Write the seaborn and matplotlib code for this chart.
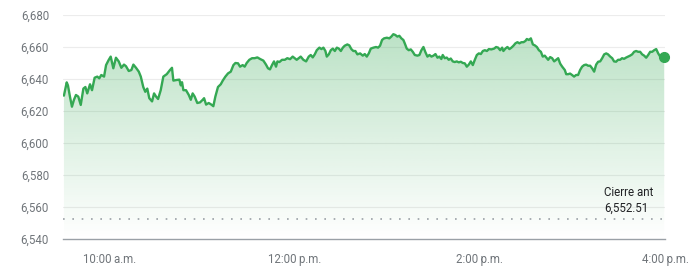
import numpy as np
import pandas as pd
import matplotlib
matplotlib.use("Agg")
import matplotlib.pyplot as plt
import seaborn as sns
from matplotlib.colors import to_rgb

# minutes since 9:30 a.m.
minutes = [0.6, 2.4, 3.2, 4.5, 5.8, 7.1, 8.4, 9.9, 11.5, 13.2, 14.5, 15.7, 17.5, 18.8, 20.5, 22.2, 23.5, 24.8,
           26.6, 27.9, 29.6, 30.9, 32.6, 34.3, 36.1, 37.8, 39.5, 40.8, 42.6, 44.3, 45.6, 47.3, 49.1, 50.4,
           52.0, 53.3, 54.6, 55.9, 57.7, 59.0, 60.3, 61.6, 63.3, 65.0, 67.2, 69.3, 70.6, 71.5, 73.7, 75.4,
           76.3, 77.1, 78.0, 79.7, 81.5, 82.8, 84.0, 85.3, 87.0, 88.8, 90.5, 91.4, 92.7, 94.4, 96.1, 97.4,
           98.7, 100.4, 102.2, 103.5, 105.2, 106.9, 108.7, 110.4, 111.7, 113.4, 114.7, 116.4, 117.7, 119.0,
           120.7, 122.5, 124.2, 125.9, 127.7, 129.8, 131.5, 132.8, 134.1, 135.4, 136.7, 138.0, 138.9, 140.2,
           141.9, 143.7, 145.3, 147.1, 148.8, 150.1, 151.4, 152.7, 154.0, 155.7, 157.5, 159.2, 160.5, 161.8,
           163.1, 164.4, 166.1, 167.4, 168.7, 170.0, 170.9, 172.2, 173.5, 174.8, 176.1, 177.4, 178.7, 180.0,
           181.3, 182.5, 184.2, 185.5, 186.8, 188.1, 189.4, 190.7, 192.5, 194.2, 195.5, 196.8, 198.1, 199.4,
           201.1, 202.8, 204.1, 205.4, 206.7, 208.0, 209.8, 211.4, 212.7, 214.0, 215.3, 216.6, 217.9, 219.2,
           220.5, 221.4, 222.7, 224.0, 225.3, 226.6, 227.9, 229.6, 230.9, 232.2, 233.5, 234.8, 236.1, 237.4,
           238.7, 240.0, 241.3, 242.6, 243.8, 245.1, 246.0, 247.3, 248.6, 249.9, 251.2, 252.5, 253.8, 255.1,
           256.4, 257.7, 259.0, 260.3, 261.6, 262.9, 264.2, 265.5, 266.8, 268.1, 269.4, 270.7, 272.0, 273.3,
           274.6, 275.9, 277.5, 279.3, 280.6, 281.9, 283.2, 284.5, 285.3, 286.6, 287.9, 289.2, 290.5, 291.8,
           293.1, 294.4, 295.7, 297.0, 298.3, 299.6, 300.5, 301.8, 303.1, 304.4, 305.7, 307.0, 308.3, 309.6,
           310.8, 312.1, 313.4, 314.3, 315.6, 316.9, 318.2, 319.5, 320.8, 322.1, 323.4, 325.1, 326.0, 327.2,
           328.5, 329.8, 331.1, 332.4, 333.7, 335.0, 336.3, 337.6, 338.9, 340.2, 341.5, 342.8, 344.1, 345.4,
           346.7, 348.0, 349.3, 350.6, 351.9, 353.1, 354.5, 355.8, 357.0, 358.3, 359.6, 360.9, 362.2, 363.5,
           364.8, 366.1, 367.4, 368.7, 370.0, 371.3, 372.6, 373.9, 375.2, 376.5, 377.8, 379.1, 380.4, 381.7,
           383.0, 384.3, 385.6, 386.9, 389.5]
prices = [6629.6, 6637.9, 6636, 6629, 6622.7, 6627, 6630, 6629, 6623.8, 6634, 6635, 6631, 6636.7, 6633, 6640.8,
          6641.5, 6640.4, 6642.5, 6641.5, 6648.7, 6651.9, 6654, 6646.7, 6653.3, 6651, 6647, 6649, 6648, 6645,
          6645.6, 6649, 6647, 6644.6, 6641.5, 6635, 6632, 6634, 6628, 6626, 6631, 6629, 6627.5, 6633, 6641.5,
          6643, 6645.6, 6647, 6639, 6639.4, 6639.6, 6636, 6638, 6633, 6633, 6630, 6627, 6631, 6629, 6625,
          6625.4, 6627, 6628, 6624, 6625, 6624, 6623, 6629, 6635, 6636.7, 6639, 6641.5, 6643.5, 6644.6, 6648.7,
          6650, 6649.8, 6647.7, 6648.7, 6647.7, 6650, 6652, 6653, 6653, 6653.5, 6652.5, 6651.5, 6649, 6646.7,
          6646, 6648.7, 6651, 6647.7, 6651, 6650.6, 6652, 6652, 6653, 6652.4, 6654, 6653, 6652, 6653, 6654,
          6652, 6651, 6654, 6655, 6653.5, 6655.4, 6658, 6659.6, 6658.7, 6659.6, 6657.5, 6654, 6655.4, 6658,
          6659, 6657.5, 6659.6, 6659, 6657.5, 6659.6, 6660.8, 6661.6, 6661, 6658.7, 6657.5, 6657.5, 6655.4,
          6656, 6654.6, 6655.6, 6654, 6656, 6659, 6659.6, 6660, 6659.6, 6660.8, 6664.4, 6665.4, 6665.8, 6665.4,
          6666.5, 6668, 6667.5, 6666.5, 6667, 6665.4, 6664.4, 6662.3, 6659, 6658, 6658.5, 6657, 6655, 6654.6,
          6655, 6658, 6660, 6656.7, 6654, 6655, 6654, 6654.6, 6655.6, 6653.3, 6654, 6652.5, 6655, 6653, 6653.4,
          6652, 6652.8, 6651, 6650.6, 6651, 6650.4, 6650.8, 6650, 6649.8, 6647.7, 6649, 6651, 6648.7, 6652,
          6655, 6656, 6655.6, 6657.5, 6658, 6657.5, 6658.7, 6658.5, 6659, 6660, 6659.6, 6658, 6659.6, 6657.5,
          6659, 6660, 6658.7, 6659.6, 6660.8, 6662.3, 6663, 6662.3, 6663, 6663, 6663.8, 6665, 6664.4, 6665.4,
          6661.6, 6661, 6660, 6658, 6657, 6654, 6654.6, 6653, 6652, 6653.7, 6653, 6651, 6652, 6653, 6649.6,
          6647.7, 6645.6, 6643, 6643, 6643.4, 6642.5, 6641.5, 6642.5, 6642.5, 6645.6, 6647.7, 6648.7, 6649,
          6648.3, 6648.3, 6646.7, 6644.6, 6649, 6650.8, 6651, 6653, 6655.4, 6656, 6655.4, 6654, 6653, 6651,
          6650.8, 6652, 6652, 6653, 6652.6, 6653.4, 6654, 6654.6, 6655.4, 6657, 6657.5, 6657, 6657, 6655.4,
          6654.6, 6653.3, 6655, 6657, 6657, 6658, 6658.7, 6656, 6654, 6654]

prev_close = 6552.51
prev_close_label = "Cierre ant\n6,552.51"
y_ticks = [6540, 6560, 6580, 6600, 6620, 6640, 6660, 6680]
y_tick_labels = ["6,540", "6,560", "6,580", "6,600", "6,620", "6,640", "6,660", "6,680"]
x_ticks = [30, 150, 270, 390]
x_tick_labels = ["10:00\u2009a.m.", "12:00\u2009p.m.", "2:00\u2009p.m.", "4:00\u2009p.m."]

sns.set_style("white")
plt.rcParams['font.family'] = ['Roboto', 'DejaVu Sans']

GREEN = "#34a853"
df = pd.DataFrame({"minutes": minutes, "price": prices})

fig = plt.figure(figsize=(6.97, 2.79), dpi=100)
ax = fig.add_axes([63 / 697, 40 / 279, 602 / 697, 224 / 279])
ax.set_xlim(0, 390)
ax.set_ylim(6540, 6680)

# grid lines
for yv in y_ticks[1:]:
    ax.axhline(yv, color="#ececec", lw=0.8, zorder=0)

# gradient fill
poly = ax.fill_between(df["minutes"], df["price"], 6540, facecolor="none", edgecolor="none")
top = max(prices)
r, g, b = to_rgb(GREEN)
n = 256
grad = np.zeros((n, 1, 4))
grad[:, 0, 0] = r
grad[:, 0, 1] = g
grad[:, 0, 2] = b
grad[:, 0, 3] = np.linspace(0.33, 0.0, n)
im = ax.imshow(grad, extent=[0, 390, 6540, top], aspect="auto", origin="upper", zorder=1)
im.set_clip_path(poly.get_paths()[0], transform=ax.transData)

sns.lineplot(data=df, x="minutes", y="price", ax=ax, color=GREEN, lw=1.7, zorder=3)
ax.plot([df["minutes"].iloc[-1]], [df["price"].iloc[-1]], "o", color=GREEN, ms=7, zorder=4, clip_on=False)

ax.axhline(prev_close, color="#9aa0a6", lw=1.2, ls=(0, (1, 4.6)), zorder=2)
ax.text(350.5, prev_close + 2.5, prev_close_label, fontsize=8.3, color="#202124",
        ha="left", va="bottom", linespacing=1.25)

ax.set_yticks(y_ticks)
ax.set_yticklabels(y_tick_labels)
ax.set_xticks(x_ticks)
ax.set_xticklabels(x_tick_labels)
ax.tick_params(axis="y", length=0, pad=10, labelsize=8.3, labelcolor="#70757a")
ax.tick_params(axis="x", length=4, width=1, color="#70757a", pad=6, labelsize=8.3, labelcolor="#70757a",
               direction="out")
ax.set_xlabel("")
ax.set_ylabel("")
for s in ["left", "right", "top"]:
    ax.spines[s].set_visible(False)
ax.spines["bottom"].set_color("#9aa0a6")
ax.spines["bottom"].set_linewidth(1)

fig.savefig("out.png", dpi=100)
